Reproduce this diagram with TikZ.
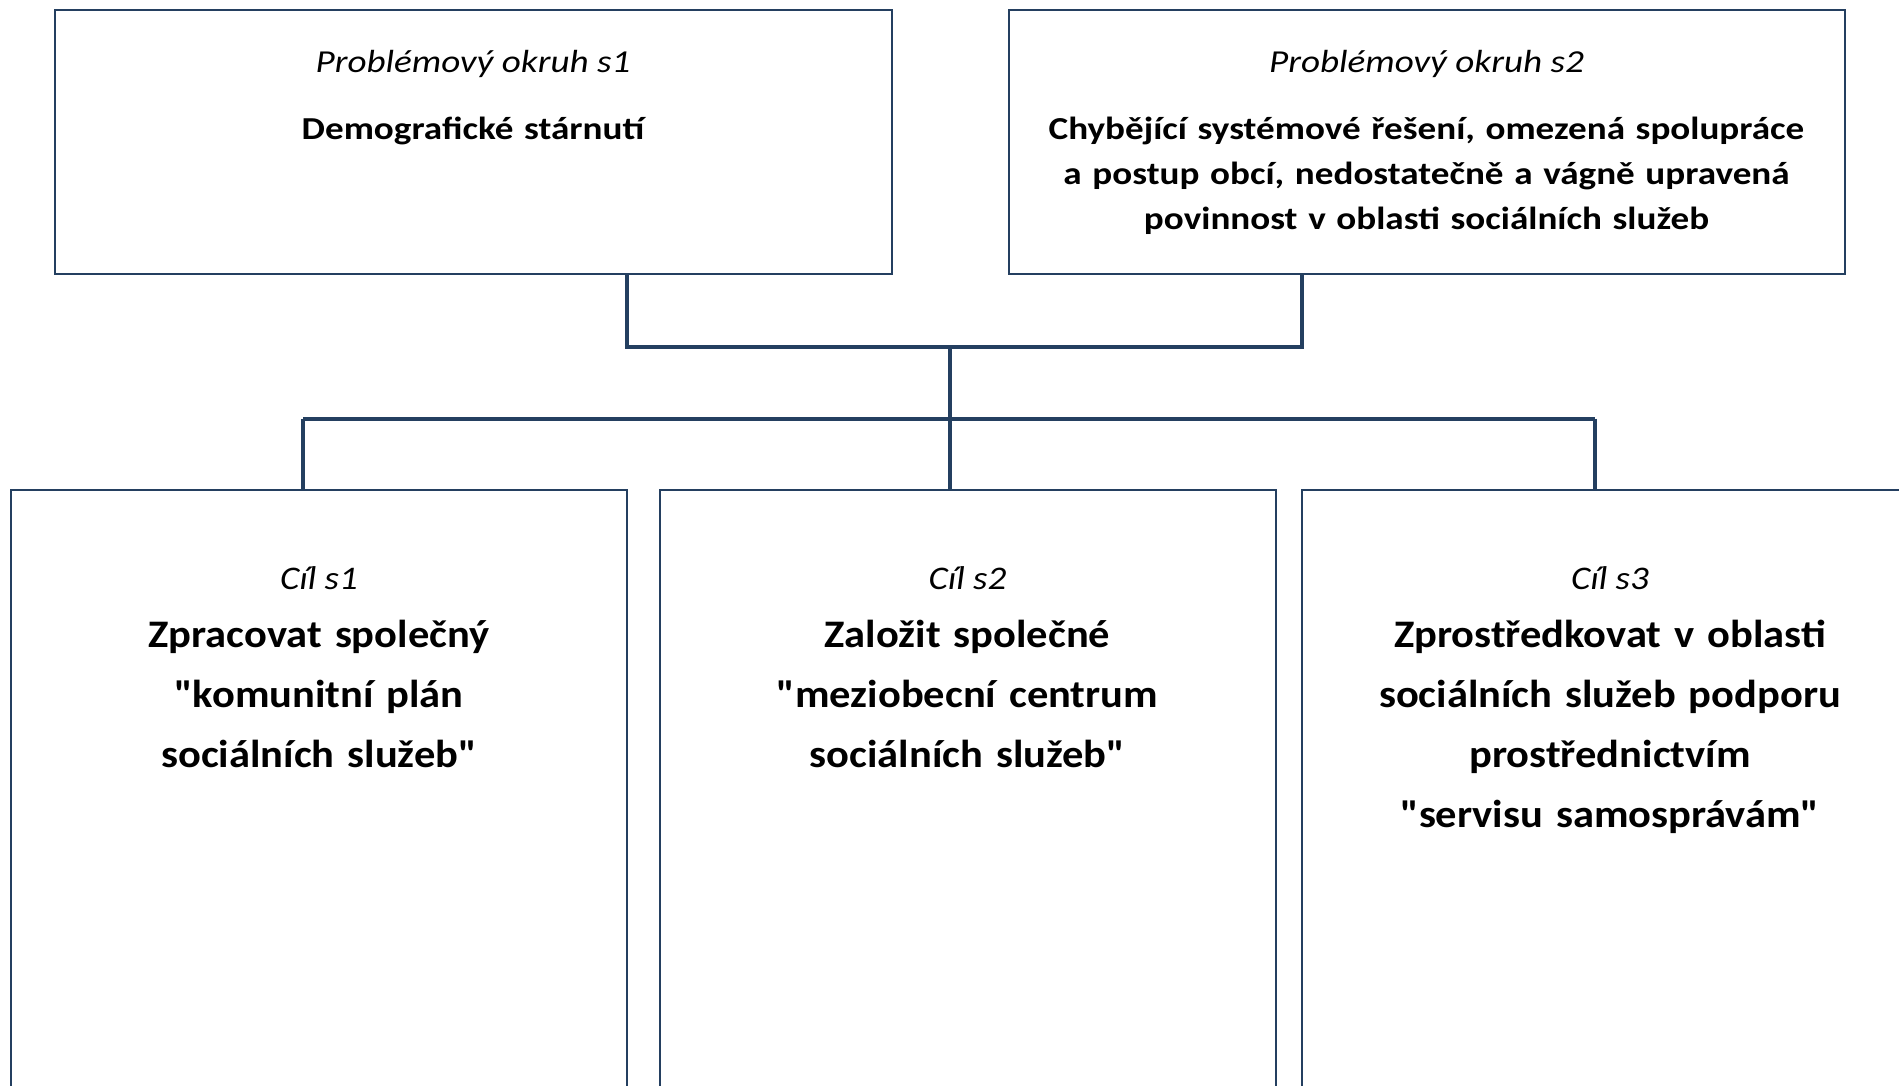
\documentclass[tikz,border=0pt]{standalone}
\usepackage{fontspec}
\setmainfont{Carlito}
\newfontfamily\hornipismo{Carlito}[FakeStretch=1.16]
\newfontfamily\cilpismo{Carlito}[FakeStretch=1.12]
\newfontfamily\dolnipismo{Carlito}[FakeStretch=1.09]
\newcommand{\uvoz}{\symbol{34}}
\usepackage{tikz}
\definecolor{okraj}{RGB}{36,63,96}
\tikzset{
  box/.style={draw=okraj, line width=2pt, inner sep=0pt, outer sep=0pt},
  spoj/.style={draw=okraj, line width=4pt},
  nadpis/.style={anchor=base, align=center, inner sep=0pt, font=\hornipismo\fontsize{32}{45}\selectfont\itshape},
  hlavni/.style={anchor=base, align=center, inner sep=0pt, text width=830pt, font=\hornipismo\fontsize{32}{45}\selectfont\bfseries},
  cilnadpis/.style={anchor=base, align=center, inner sep=0pt, font=\cilpismo\fontsize{33}{45}\selectfont\itshape},
  cil/.style={anchor=base, align=center, inner sep=0pt, text width=610pt, font=\dolnipismo\fontsize{39}{60}\selectfont\bfseries}
}
\begin{document}
\begin{tikzpicture}[x=1pt,y=-1pt]
  % 画布
  \useasboundingbox (0,0) rectangle (1899,1086);
  \clip (0,0) rectangle (1899,1086);
  % 方框
  \node[box, minimum width=837pt, minimum height=264pt] (p1) at (473,142) {};
  \node[box, minimum width=836pt, minimum height=264pt] (p2) at (1426.5,142) {};
  \foreach \name/\x in {c1/319, c2/967.5, c3/1610}
    \node[box, minimum width=616pt, minimum height=640pt] (\name) at (\x,810) {};
  % 文字
  \node[nadpis] (t1) at (473,72.7) {Problémový okruh s1};
  \node[hlavni] (h1) at (473,140) {Demografické stárnutí};
  \node[nadpis] (t2) at (1426.5,72.7) {Problémový okruh s2};
  \node[hlavni] (h2) at (1426.5,140) {Chybějící systémové řešení, omezená spolupráce\\
    a postup obcí, nedostatečně a vágně upravená\\ povinnost v oblasti sociálních služeb};
  \node[cilnadpis] (t3) at (319,589) {Cíl s1};
  \node[cil] (h3) at (319,647) {Zpracovat společný\\ \uvoz komunitní plán\\ sociálních služeb\uvoz};
  \node[cilnadpis] (t4) at (967.5,589) {Cíl s2};
  \node[cil] (h4) at (967.5,647) {Založit společné\\ \uvoz meziobecní centrum\\ sociálních služeb\uvoz};
  \node[cilnadpis] (t5) at (1610,589) {Cíl s3};
  \node[cil] (h5) at (1610,647) {Zprostředkovat v oblasti\\ sociálních služeb podporu\\
    prostřednictvím\\ \uvoz servisu samosprávám\uvoz};
  % 连接线
  \coordinate (j1) at (949.5,346.5);
  \coordinate (j2) at (949.5,418.5);
  \coordinate (d1) at (303,418.5);
  \coordinate (d3) at (1595,418.5);
  \draw[spoj] (p1.south -| c1.east) |- (j1) -| (p2.south -| c3.west);
  \draw[spoj] (j1) -- (j2);
  \draw[spoj] (d1) -- (d3);
  \foreach \pt/\cil in {d1/c1, j2/c2, d3/c3}
    \draw[spoj] (\pt) -- (\pt |- \cil.north);
\end{tikzpicture}
\end{document}
